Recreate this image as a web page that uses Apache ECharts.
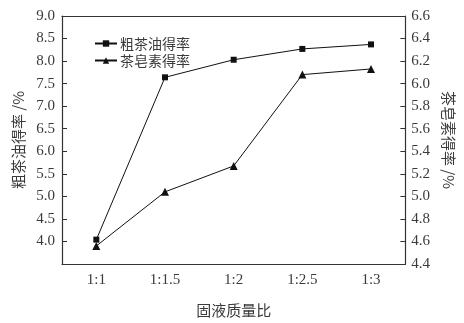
<!DOCTYPE html>
<html>
<head>
<meta charset="utf-8">
<script src="https://cdn.jsdelivr.net/npm/echarts@6/dist/echarts.min.js"></script>
<style>html,body{margin:0;padding:0;background:#fff}#c{width:464px;height:323px}</style>
</head>
<body>
<div id="c"></div>
<script>
const categories = ['1:1', '1:1.5', '1:2', '1:2.5', '1:3'];
const oilYield = [4.04, 7.64, 8.03, 8.27, 8.37];
const saponinYield = [4.56, 5.04, 5.27, 6.08, 6.13];
const leftTicks = { min: 3.5, max: 9.0, interval: 0.5 };
const rightTicks = { min: 4.4, max: 6.6, interval: 0.2 };

const serif = '"Liberation Serif", "Times New Roman", serif';
const cjk = '"Noto Sans CJK SC", sans-serif';
const txt = '#3a3a3a';
const lineC = '#333';

const chart = echarts.init(document.getElementById('c'));
chart.setOption({
  animation: false,
  backgroundColor: '#fff',
  grid: { left: 62, right: 57, top: 16, bottom: 52 },
  legend: {
    orient: 'vertical', left: 89, top: 31, itemGap: 2,
    itemWidth: 22, itemHeight: 8,
    textStyle: { fontFamily: cjk, fontSize: 14, lineHeight: 15, color: txt, padding: [0, 0, 0, -2] },
    data: ['粗茶油得率', '茶皂素得率']
  },
  xAxis: [{
    type: 'category', data: categories, boundaryGap: true,
    name: '固液质量比', nameLocation: 'middle', nameGap: 39,
    nameTextStyle: { fontFamily: cjk, fontSize: 15, color: txt },
    axisLine: { lineStyle: { color: lineC, width: 1.2 } },
    axisTick: { inside: true, alignWithLabel: true, length: 5, lineStyle: { color: lineC } },
    axisLabel: { fontFamily: serif, fontSize: 15, color: txt, margin: 9 },
    splitLine: { show: false }
  }, {
    type: 'category', data: categories, position: 'top',
    axisLine: { lineStyle: { color: lineC, width: 1.2 } },
    axisTick: { show: false }, axisLabel: { show: false }
  }],
  yAxis: [{
    type: 'value', min: leftTicks.min, max: leftTicks.max, interval: leftTicks.interval,
    name: '粗茶油得率 /%', nameLocation: 'middle', nameGap: 36, nameRotate: 90,
    nameTextStyle: { fontFamily: cjk, fontSize: 15, color: txt },
    axisLine: { show: true, lineStyle: { color: lineC, width: 1.2 } },
    axisTick: { show: true, inside: true, length: 5, lineStyle: { color: lineC } },
    axisLabel: { fontFamily: serif, fontSize: 15, color: txt, margin: 7,
      formatter: v => (Math.abs(v - leftTicks.min) < 1e-6 ? '' : v.toFixed(1)) },
    splitLine: { show: false }
  }, {
    type: 'value', min: rightTicks.min, max: rightTicks.max, interval: rightTicks.interval,
    position: 'right',
    name: '茶皂素得率 /%', nameLocation: 'middle', nameGap: 33, nameRotate: -90,
    nameTextStyle: { fontFamily: cjk, fontSize: 15, color: txt },
    axisLine: { show: true, lineStyle: { color: lineC, width: 1.2 } },
    axisTick: { show: true, inside: true, length: 5, lineStyle: { color: lineC } },
    axisLabel: { fontFamily: serif, fontSize: 15, color: txt, margin: 6,
      formatter: v => v.toFixed(1) },
    splitLine: { show: false }
  }],
  series: [{
    name: '粗茶油得率', type: 'line', yAxisIndex: 0, data: oilYield,
    symbol: 'rect', symbolSize: 6,
    lineStyle: { color: '#111', width: 1 }, itemStyle: { color: '#111' }
  }, {
    name: '茶皂素得率', type: 'line', yAxisIndex: 1, data: saponinYield,
    symbol: 'triangle', symbolSize: 8,
    lineStyle: { color: '#111', width: 1 }, itemStyle: { color: '#111' }
  }]
});
</script>
</body>
</html>
